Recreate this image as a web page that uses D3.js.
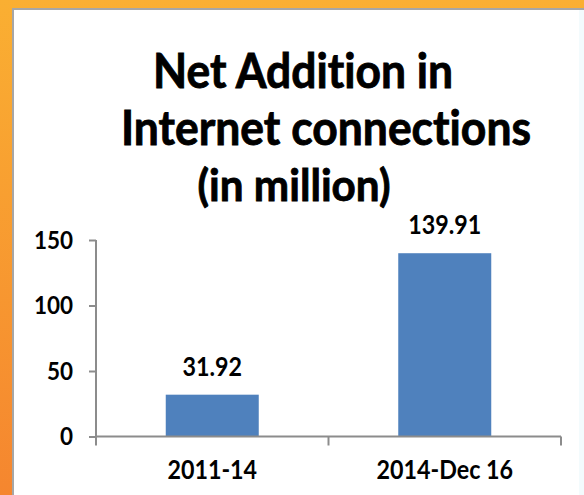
<!DOCTYPE html>
<html>
<head>
<meta charset="utf-8">
<script src="https://cdn.jsdelivr.net/npm/d3@7"></script>
<style>
  html, body { margin: 0; padding: 0; background: #fff; }
  svg { display: block; }
  text { font-family: "Lato", "Open Sans", sans-serif; font-weight: 700; fill: #000;
         font-variant-ligatures: none; font-feature-settings: "liga" 0, "clig" 0; }
</style>
</head>
<body>
<svg id="chart" width="584" height="495"></svg>
<script>
const categories = ["2011-14", "2014-Dec 16"];
const values = [31.92, 139.91];
const yTicks = [0, 50, 100, 150];
const titleLines = ["Net Addition in", "Internet connections", "(in million)"];

const W = 584, H = 495;
const svg = d3.select("#chart");
const smallStretch = 1.12, titleStretch = 1.06;

// frame
const defs = svg.append("defs");
const grad = defs.append("linearGradient").attr("id", "frame").attr("x1", 0).attr("y1", 0).attr("x2", 0).attr("y2", 1);
grad.append("stop").attr("offset", "0%").attr("stop-color", "#FAAF32");
grad.append("stop").attr("offset", "100%").attr("stop-color", "#F5862F");
svg.append("rect").attr("width", W).attr("height", H).attr("fill", "url(#frame)");
svg.append("rect").attr("x", 12).attr("y", 8).attr("width", W - 12).attr("height", H - 8).attr("fill", "#A6A6A6");
svg.append("rect").attr("x", 14).attr("y", 10).attr("width", W - 14).attr("height", H - 10).attr("fill", "#FFFFFF");
svg.append("rect").attr("x", 579).attr("y", 10).attr("width", 5).attr("height", H - 10).attr("fill", "#F3FBFD");

// title lines, each fitted to its width in the reference
const titleSpecs = [
  { cx: 303, base: 88, width: 300 },
  { cx: 326, base: 145, width: 410 },
  { cx: 294, base: 201, width: 193 }
];
titleLines.forEach((line, i) => {
  const s = titleSpecs[i];
  const t = svg.append("text").attr("x", 0).attr("y", 0)
    .attr("transform", `translate(${s.cx},${s.base}) scale(1,${titleStretch})`)
    .attr("text-anchor", "middle").style("font-size", "40px")
    .attr("stroke", "#000").attr("stroke-width", 0.8)
    .text(line);
  const w = t.node().getComputedTextLength();
  t.style("font-size", (40 * s.width / w).toFixed(2) + "px");
});

// scales
const x = d3.scaleBand().domain(categories).range([96, 561]).padding(0);
const y = d3.scaleLinear().domain([0, 150]).range([436.5, 240]);
const axisColor = "#8C8C8C";

// y axis
const yAxis = svg.append("g").attr("transform", "translate(96,0)")
  .call(d3.axisLeft(y).tickValues(yTicks).tickSize(7).tickPadding(16).tickFormat(d3.format("d")));
yAxis.select(".domain").attr("stroke", axisColor).attr("stroke-width", 2).attr("d", `M0,${y(150)}V${y(0)}`);
yAxis.selectAll(".tick line").attr("stroke", axisColor).attr("stroke-width", 2);
yAxis.selectAll(".tick text")
  .style("font-size", "22.5px").style("font-family", "Lato").style("font-weight", 700)
  .attr("fill", "#000").attr("dy", "0.33em")
  .attr("transform", `scale(1,${smallStretch})`);

// bars
const barW = x.bandwidth() * 0.4;
svg.append("g").selectAll("rect").data(values).join("rect")
  .attr("x", (d, i) => x(categories[i]) + x.bandwidth() / 2 - barW / 2)
  .attr("y", d => y(d))
  .attr("width", barW)
  .attr("height", d => y(0) - y(d))
  .attr("fill", "#4F81BD");

// x axis
const xAxis = svg.append("g").attr("transform", `translate(0,${y(0)})`)
  .call(d3.axisBottom(x).tickSize(0).tickPadding(28));
xAxis.select(".domain").attr("stroke", axisColor).attr("stroke-width", 2).attr("d", `M${x.range()[0]},0H${x.range()[1]}`);
xAxis.selectAll(".tick text")
  .style("font-size", "23.3px").style("font-family", "Lato").style("font-weight", 700)
  .attr("fill", "#000").attr("dy", 0).attr("y", 42.5 / smallStretch)
  .attr("transform", `scale(1,${smallStretch})`);
const bounds = categories.map(c => x(c)).concat([x.range()[1]]);
xAxis.selectAll("line.bound").data(bounds).join("line").attr("class", "bound")
  .attr("x1", d => d).attr("x2", d => d).attr("y1", 0).attr("y2", 9)
  .attr("stroke", axisColor).attr("stroke-width", 2);

// value labels
svg.append("g").selectAll("text").data(values).join("text")
  .attr("transform", (d, i) => `translate(${x(categories[i]) + x.bandwidth() / 2},${y(d) - 19}) scale(1,${smallStretch})`)
  .attr("text-anchor", "middle")
  .style("font-size", "23.3px")
  .text(d => d3.format(".2f")(d));
</script>
</body>
</html>
